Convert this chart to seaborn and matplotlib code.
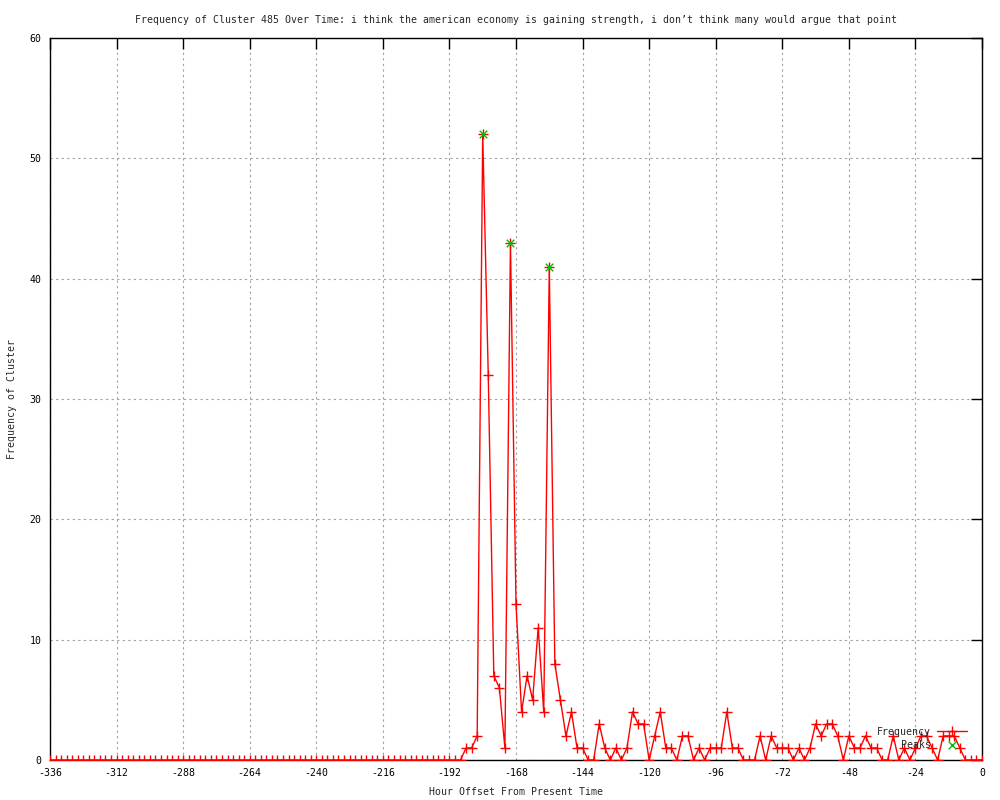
import numpy as np
import pandas as pd
import matplotlib
matplotlib.use("Agg")
import matplotlib.pyplot as plt
import seaborn as sns

# ---- data ----
hours = list(range(-336, 1, 2))
freq_tail = [1, 1, 2, 52, 32, 7, 6, 1, 43, 13, 4, 7, 5, 11, 4, 41, 8, 5, 2, 4, 1, 1,
             0, 0, 3, 1, 0, 1, 0, 1, 4, 3, 3, 0, 2, 4, 1, 1, 0, 2, 2, 0, 1, 0, 1, 1, 1,
             4, 1, 1, 0, 0, 0, 2, 0, 2, 1, 1, 1, 0, 1, 0, 1, 3, 2, 3, 3, 2, 0, 2, 1, 1,
             2, 1, 1, 0, 0, 2, 0, 1, 0, 1, 2, 2, 1, 0, 2, 2, 2, 1, 0, 0, 0, 0]
frequency = [0] * (len(hours) - len(freq_tail)) + freq_tail
peak_hours = [-180, -170, -156]
peak_values = [52, 43, 41]
x_ticks = list(range(-336, 1, 24))
y_ticks = list(range(0, 61, 10))

title = ("Frequency of Cluster 485 Over Time: i think the american economy is "
         "gaining strength, i don\u2019t think many would argue that point")

df = pd.DataFrame({"hour": hours, "freq": frequency})
peaks = pd.DataFrame({"hour": peak_hours, "freq": peak_values})

sns.set_style("white")
plt.rcParams["font.family"] = ["DejaVu Sans Mono", "DejaVu Sans"]
plt.rcParams["axes.unicode_minus"] = False
FS = 7.15

fig = plt.figure(figsize=(10, 8), dpi=100)
ax = fig.add_axes([0.05, 0.05, 0.932, 0.9025])

sns.lineplot(data=df, x="hour", y="freq", ax=ax, color="#ff0000", linewidth=1.0,
             marker="+", markersize=7, markeredgewidth=1.0, markeredgecolor="#ff0000",
             label="Frequency", zorder=3)
sns.scatterplot(data=peaks, x="hour", y="freq", ax=ax, marker="x", color="#00c000",
                s=30, linewidth=1.0, label="Peaks", zorder=4)

ax.set_xlim(-336, 0)
ax.set_ylim(0, 60)
ax.set_xticks(x_ticks)
ax.set_yticks(y_ticks)
ax.grid(True, color="#a0a0a0", linestyle=(0, (2, 3)), linewidth=0.8)
ax.set_axisbelow(True)
for s in ax.spines.values():
    s.set_color("black")
    s.set_linewidth(1.0)
ax.tick_params(direction="in", length=8, width=1, top=True, right=True,
               labelsize=FS, pad=6, colors="black")

ax.set_title(title, fontsize=FS, pad=11)
ax.set_xlabel("Hour Offset From Present Time", fontsize=FS)
ax.set_ylabel("Frequency of Cluster", fontsize=FS)
ax.xaxis.set_label_coords(0.5, -0.037)
ax.yaxis.set_label_coords(-0.035, 0.5)

ax.legend(loc="lower right", bbox_to_anchor=(0.99, 0.006), frameon=False,
          markerfirst=False, fontsize=FS, handlelength=3.0, labelspacing=0.3,
          borderpad=0.1, handletextpad=0.6)

fig.savefig("out.png", dpi=100)
